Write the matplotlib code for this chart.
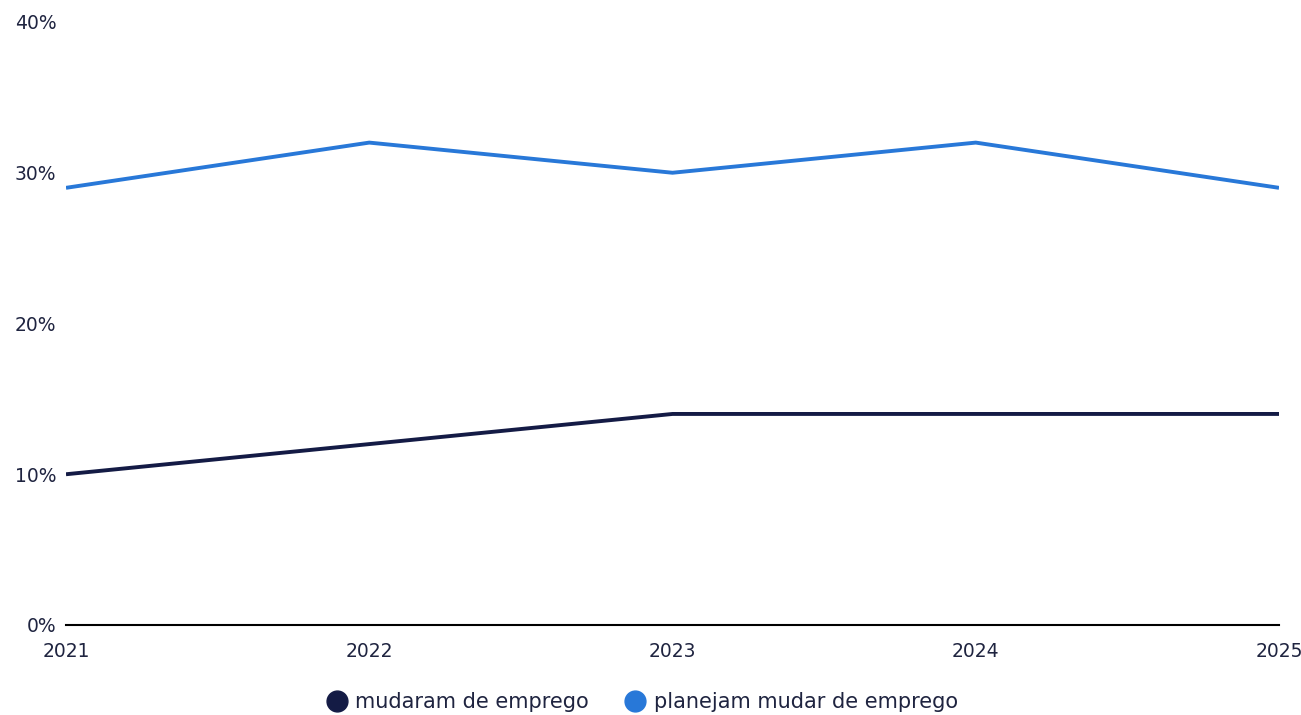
import matplotlib

matplotlib.use("Agg")
import matplotlib.pyplot as plt
from matplotlib.lines import Line2D
from matplotlib.ticker import PercentFormatter

years = [2021, 2022, 2023, 2024, 2025]
mudaram = [10, 12, 14, 14, 14]
planejam = [29, 32, 30, 32, 29]
y_ticks = [0, 10, 20, 30, 40]

NAVY = "#141b45"
BLUE = "#2878d8"
TEXT = "#1f2440"

fig = plt.figure(figsize=(13.01, 7.15), dpi=100)
ax = fig.add_axes([66 / 1301, 90 / 715, 1213 / 1301, 603 / 715])

ax.plot(years, mudaram, color=NAVY, linewidth=2.8, solid_capstyle="butt")
ax.plot(years, planejam, color=BLUE, linewidth=2.8, solid_capstyle="butt")

ax.set_xlim(years[0], years[-1])
ax.set_ylim(0, 40)
ax.set_xticks(years)
ax.set_yticks(y_ticks)
ax.yaxis.set_major_formatter(PercentFormatter(decimals=0))

for side in ("top", "right", "left"):
    ax.spines[side].set_visible(False)
ax.spines["bottom"].set_color("black")
ax.spines["bottom"].set_linewidth(1.5)
ax.tick_params(axis="both", length=0, labelsize=13.5, labelcolor=TEXT)
ax.tick_params(axis="y", pad=7)
ax.tick_params(axis="x", pad=12)

handles = [
    Line2D([], [], marker="o", linestyle="", markersize=15, color=NAVY),
    Line2D([], [], marker="o", linestyle="", markersize=15, color=BLUE),
]
fig.legend(
    handles,
    ["mudaram de emprego", "planejam mudar de emprego"],
    loc="center",
    bbox_to_anchor=(641 / 1301, 1 - 702 / 715),
    ncol=2,
    frameon=False,
    fontsize=15,
    labelcolor=TEXT,
    handletextpad=0.3,
    columnspacing=1.6,
    handlelength=1.2,
)

fig.savefig("out.png", dpi=100)
plt.close(fig)
